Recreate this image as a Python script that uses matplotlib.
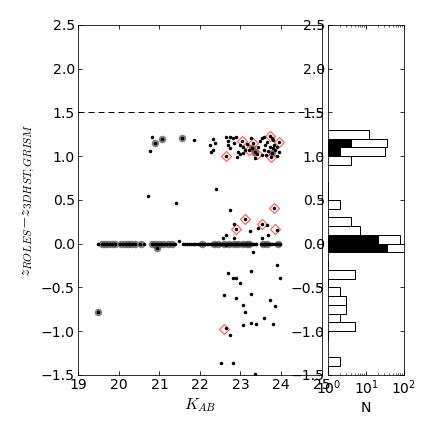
import numpy as np
import matplotlib
matplotlib.use("Agg")
import matplotlib.pyplot as plt

plt.rcParams['font.family'] = 'DejaVu Sans'
plt.rcParams['mathtext.fontset'] = 'cm'
plt.rcParams['font.size'] = 14

# all objects: K magnitude and redshift difference
k_off = [20.71, 20.77, 20.81, 20.88, 21.07, 21.40, 21.56, 21.85, 22.40,
         22.31, 22.25, 22.36, 22.32, 22.28, 22.65, 22.75, 22.81, 22.70, 22.68,
         22.73, 22.83, 22.64, 22.93, 22.98, 22.91, 23.03, 22.99, 23.07, 23.16,
         23.12, 23.06, 23.22, 23.32, 23.28, 23.36, 23.40, 23.44, 23.49, 23.53,
         23.57, 23.53, 23.61, 23.65, 23.72, 23.78, 23.81, 23.73, 23.80, 23.86,
         23.78, 23.76, 23.94, 23.90, 23.96, 23.91, 23.69, 23.63, 23.83, 23.36,
         22.88, 23.58, 23.25,
         22.75, 22.85, 22.89, 23.10, 22.64, 22.56, 22.85, 23.24, 23.43, 23.54,
         23.65, 23.69, 23.53, 23.83, 23.90, 23.30, 21.49, 20.94,
         19.48, 22.70, 23.25, 23.90, 22.81, 22.88, 22.99, 23.98, 22.60, 23.26,
         22.89, 23.72, 23.05, 23.85, 23.12, 23.59, 23.26, 23.39, 23.07, 23.80,
         22.65, 22.74, 22.52, 22.81, 23.36]
dz_off = [0.544, 1.062, 1.215, 1.146, 1.196, 0.467, 1.207, 1.188, 0.624,
          1.196, 1.127, 1.146, 1.070, 1.043, 1.219, 1.219, 1.204, 1.173, 1.127,
          1.096, 1.146, 1.005, 1.050, 1.021, 0.993, 1.176, 1.127, 1.108, 1.135,
          1.070, 1.032, 1.070, 1.146, 1.089, 1.050, 1.021, 1.108, 1.173, 1.204,
          1.070, 1.013, 1.127, 1.158, 1.230, 1.204, 1.184, 1.108, 1.089, 1.070,
          1.032, 0.993, 1.165, 1.108, 1.044, 1.005, 1.058, 1.013, 1.127, 0.975,
          1.215, 1.225, 1.210,
          0.383, 0.231, 0.169, 0.280, 0.105, 0.060, 0.066, 0.146, 0.181, 0.231,
          0.212, 0.097, 0.071, 0.410, 0.162, -0.094, 0.029, -0.048,
          -0.780, -0.329, -0.315, -0.238, -0.395, -0.395, -0.448, -0.395, -0.589, -0.574,
          -0.620, -0.643, -0.696, -0.707, -0.780, -0.845, -0.902, -0.921, -0.929, -0.913,
          -0.967, -1.043, -1.359, -1.359, -1.493]

# objects on the dz = 0 line
k_zero = [19.49, 19.58, 19.64, 19.70, 19.77, 19.84, 19.90,
          20.04, 20.11, 20.18, 20.25, 20.33, 20.40, 20.53, 20.63,
          20.82, 20.90, 20.97, 21.05, 21.12, 21.19, 21.26, 21.33, 21.39,
          21.57, 21.63, 21.67, 21.73, 21.77, 21.82, 21.86, 21.90, 21.96, 21.99,
          22.04, 22.09, 22.12, 22.17, 22.21, 22.24, 22.29, 22.34, 22.37, 22.41,
          22.46, 22.49, 22.52, 22.56, 22.58, 22.61, 22.65, 22.67, 22.70, 22.74,
          22.76, 22.79, 22.83, 22.85, 22.88, 22.92, 22.94, 22.97, 23.01, 23.03,
          23.06, 23.10, 23.12, 23.15, 23.19, 23.21, 23.24, 23.28, 23.30, 23.33,
          23.37, 23.39, 23.50, 23.53, 23.57, 23.59, 23.62, 23.67, 23.70, 23.75,
          23.78, 23.82, 23.87, 23.90, 23.94, 23.98]
dz_zero = [0.0, 0.0, 0.0, 0.0, 0.0, 0.0, 0.0,
           0.0, 0.0, 0.0, 0.0, 0.0, 0.0, 0.0, 0.0,
           0.0, 0.0, 0.0, 0.0, 0.0, 0.0, 0.0, 0.0, 0.0,
           0.0, 0.0, 0.0, 0.0, 0.0, 0.0, 0.0, 0.0, 0.0, 0.0,
           0.0, 0.0, 0.0, 0.0, 0.0, 0.0, 0.0, 0.0, 0.0, 0.0,
           0.0, 0.0, 0.0, 0.0, 0.0, 0.0, -0.01, 0.0, 0.0, 0.0,
           0.0, 0.0, 0.0, 0.0, 0.0, 0.0, 0.0, 0.0, 0.0, 0.0,
           0.0, 0.0, 0.0, 0.0, 0.0, 0.0, 0.0, 0.0, 0.0, 0.0,
           0.0, 0.0, 0.0, 0.0, 0.0, 0.0, 0.0, 0.0, 0.0, 0.0,
           0.0, 0.0, 0.0, 0.0, 0.0, 0.0]

# objects with the grey halo
k_big = [19.48, 20.88, 21.07, 21.56, 23.78, 23.36, 23.28, 20.94,
         19.58, 19.66, 19.74, 19.82, 19.90, 20.05, 20.14, 20.22, 20.30, 20.40,
         20.55, 20.82, 20.90, 21.00, 21.10, 21.20, 21.30, 22.05, 22.35, 22.45,
         22.60, 22.72, 22.85, 22.95, 23.05, 23.15, 23.22, 23.55, 23.65, 23.92]
dz_big = [-0.780, 1.146, 1.196, 1.207, 1.032, 1.050, 1.089, -0.048,
          0.0, 0.0, 0.0, 0.0, 0.0, 0.0, 0.0, 0.0, 0.0, 0.0,
          0.0, 0.0, 0.0, 0.0, 0.0, 0.0, 0.0, 0.0, 0.0, 0.0,
          0.0, 0.0, 0.0, 0.0, 0.0, 0.0, 0.0, 0.0, 0.0, 0.0]

# red diamonds
k_red = [22.64, 23.03, 23.32, 23.22, 23.40, 23.72, 23.94, 23.76,
         22.89, 23.10, 23.54, 23.83, 23.86, 22.60]
dz_red = [1.005, 1.176, 1.146, 1.070, 1.021, 1.230, 1.165, 0.993,
          0.169, 0.280, 0.231, 0.410, 0.166, -0.980]

# histogram of dz (bins of 0.1 from -1.5 to 2.5)
bin_edges = np.round(np.arange(-1.5, 2.51, 0.1), 2)
n_all = [1, 2, 0, 0, 1, 5, 2, 3, 3, 2, 1, 5, 1, 0, 98, 77, 7, 4, 1, 2,
         1, 1, 0, 0, 4, 32, 35, 12, 0, 0, 0, 0, 0, 0, 0, 0, 0, 0, 0, 0]
n_sub = [0, 0, 0, 0, 0, 0, 0, 0, 0, 0, 0, 0, 0, 0, 35, 20, 0, 0, 0, 0,
         0, 0, 0, 0, 0, 2, 4, 0, 0, 0, 0, 0, 0, 0, 0, 0, 0, 0, 0, 0]

fig = plt.figure(figsize=(436 / 72, 436 / 72), dpi=72)
ax = fig.add_axes([0.1796, 0.140, 0.558, 0.8027])
axh = fig.add_axes([0.753, 0.140, 0.1736, 0.8027])

ax.plot(k_big, dz_big, 'o', color='#555555', alpha=0.75, ms=7.5, mew=0)
ax.plot(k_red, dz_red, 'D', mfc='none', mec='#ee3333', alpha=0.75, ms=6.5, mew=1.2)
ax.plot(k_zero, dz_zero, 'o', color='k', ms=3.5, mew=0)
ax.plot(k_off, dz_off, 'o', color='k', ms=3.5, mew=0)
ax.axhline(1.5, color='k', ls=(0, (6, 4)), lw=1)

ax.set_xlim(19, 25)
ax.set_ylim(-1.5, 2.5)
ax.set_xticks(np.arange(19, 26, 1))
ax.set_yticks(np.arange(-1.5, 2.51, 0.5))
ax.set_xlabel(r'$K_{AB}$', fontsize=16)
ax.set_ylabel(r'$z_{ROLES}{-}z_{3DHST,GRISM}$', fontsize=16)
ax.tick_params(direction='in', top=True, right=True, length=4)

axh.barh(bin_edges[:-1], n_all, height=0.1, align='edge', color='white',
         edgecolor='k', lw=1)
axh.barh(bin_edges[:-1], n_sub, height=0.1, align='edge', color='k',
         edgecolor='k', lw=1)
axh.set_xscale('log')
axh.set_xlim(1, 100)
axh.set_ylim(-1.5, 2.5)
axh.set_yticks(np.arange(-1.5, 2.51, 0.5))
axh.set_xlabel('N', fontsize=14)
axh.tick_params(which='both', direction='in', top=True, right=True)
axh.tick_params(which='major', length=4)
axh.tick_params(which='minor', length=2)

fig.savefig('out.png', dpi=72)
